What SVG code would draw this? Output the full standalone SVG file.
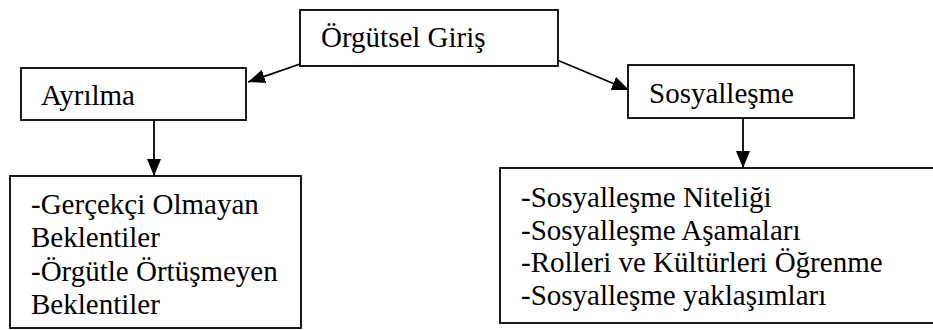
<svg xmlns="http://www.w3.org/2000/svg" width="933" height="330" viewBox="0 0 933 330">
<style>
.box{fill:#fff;stroke:#000;stroke-width:1.8}
.t{font-family:'Liberation Serif','Liberation Sans',sans-serif;font-size:29px;fill:#000}
.c{stroke:#000;stroke-width:1.8;fill:none}
</style>
<defs>
<marker id="ah" markerUnits="userSpaceOnUse" markerWidth="18" markerHeight="14" refX="17" refY="7" orient="auto">
<path d="M0,0 L17,7 L0,14 z" fill="#000"/>
</marker>
</defs>
<rect width="933" height="330" fill="#fff"/>
<g id="connectors">
<line class="c" x1="300" y1="64" x2="248" y2="82" marker-end="url(#ah)"/>
<line class="c" x1="557" y1="60" x2="629" y2="90" marker-end="url(#ah)"/>
<line class="c" x1="154" y1="120" x2="154" y2="176" marker-end="url(#ah)"/>
<line class="c" x1="743" y1="118" x2="743" y2="168" marker-end="url(#ah)"/>
</g>
<g id="orgutsel-giris">
<rect class="box" x="300" y="10" width="258" height="56"/>
<text class="t" x="321" y="47">Örgütsel Giriş</text>
</g>
<g id="ayrilma">
<rect class="box" x="21" y="68" width="225" height="52"/>
<text class="t" x="41" y="105">Ayrılma</text>
</g>
<g id="sosyallesme">
<rect class="box" x="628" y="65" width="226" height="53"/>
<text class="t" x="649" y="103">Sosyalleşme</text>
</g>
<g id="ayrilma-detay">
<rect class="box" x="10" y="176" width="291" height="152"/>
<text class="t" x="31" y="214">-Gerçekçi Olmayan</text>
<text class="t" x="31" y="247">Beklentiler</text>
<text class="t" x="31" y="281">-Örgütle Örtüşmeyen</text>
<text class="t" x="31" y="314">Beklentiler</text>
</g>
<g id="sosyallesme-detay">
<rect class="box" x="500" y="168" width="440" height="155"/>
<text class="t" x="521" y="207">-Sosyalleşme Niteliği</text>
<text class="t" x="521" y="240">-Sosyalleşme Aşamaları</text>
<text class="t" x="521" y="272">-Rolleri ve Kültürleri Öğrenme</text>
<text class="t" x="521" y="305">-Sosyalleşme yaklaşımları</text>
</g>
</svg>
